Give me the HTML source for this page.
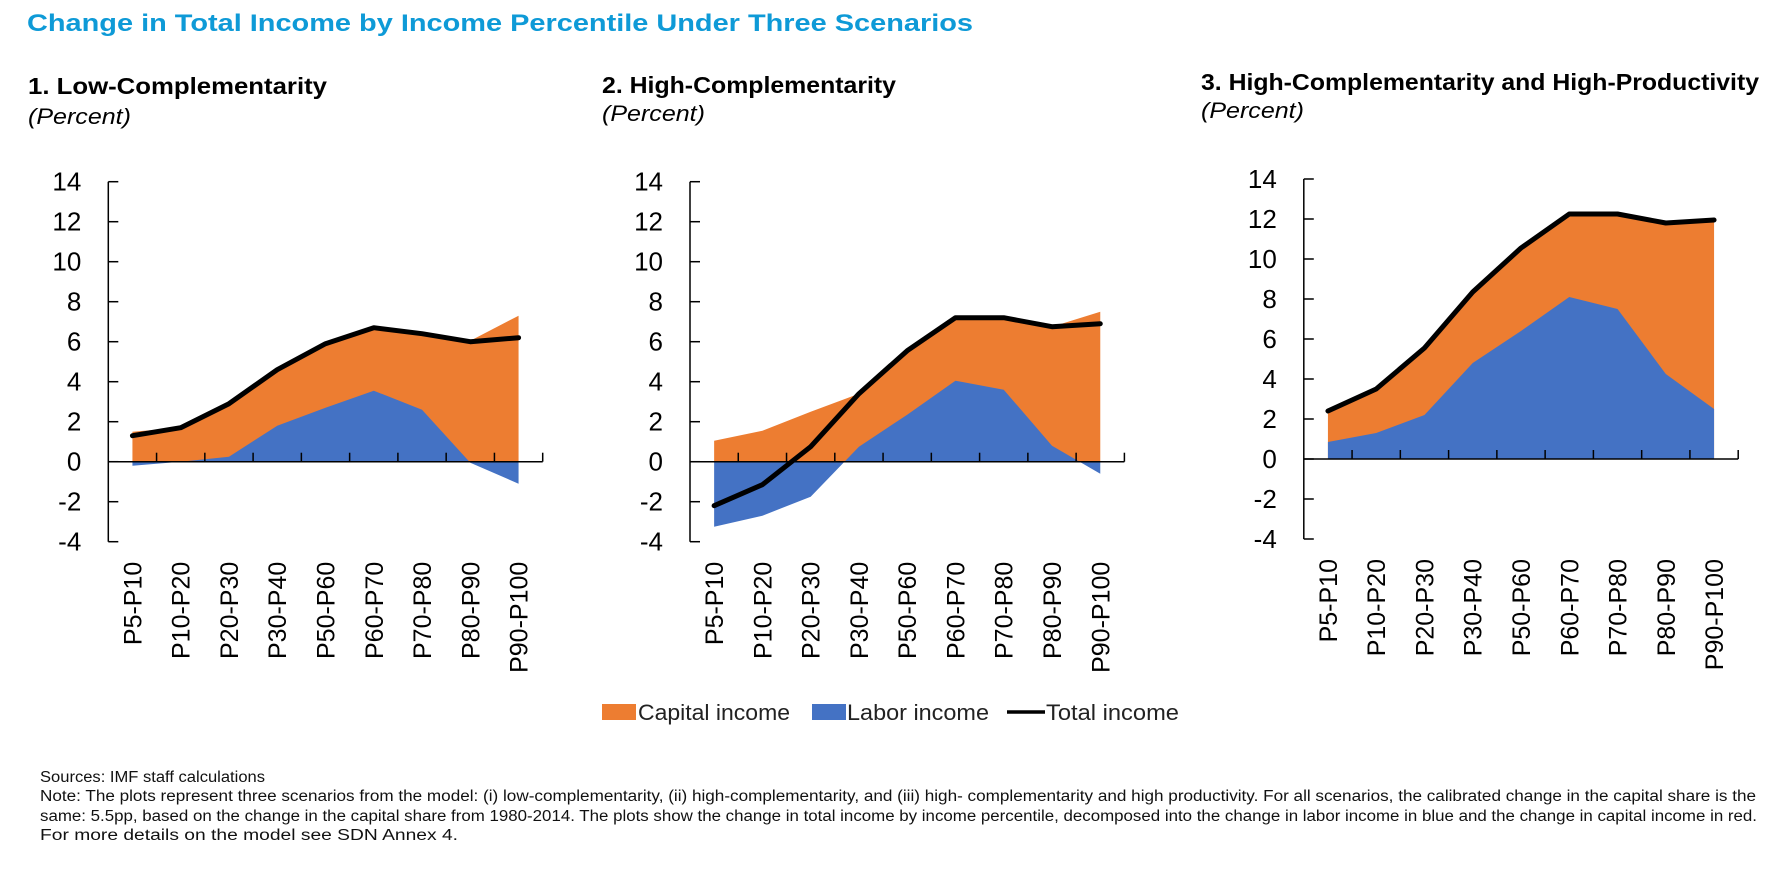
<!DOCTYPE html>
<html><head><meta charset="utf-8"><style>
html,body{margin:0;padding:0;background:#fff;width:1782px;height:870px;overflow:hidden}
svg{display:block}
text{font-family:"Liberation Sans",sans-serif}
</style></head><body>
<svg id="root" width="1782" height="870" viewBox="0 0 1782 870" xmlns="http://www.w3.org/2000/svg">
<text x="27" y="31" font-size="24" font-weight="bold" fill="#0e9ad7" textLength="946" lengthAdjust="spacingAndGlyphs">Change in Total Income by Income Percentile Under Three Scenarios</text>
<text x="28" y="94" font-size="23" font-weight="bold" fill="#000" textLength="299" lengthAdjust="spacingAndGlyphs">1.  Low-Complementarity</text>
<text x="28" y="124" font-size="22" font-style="italic" fill="#000" textLength="103" lengthAdjust="spacingAndGlyphs">(Percent)</text>
<text x="602" y="93" font-size="23" font-weight="bold" fill="#000" textLength="294" lengthAdjust="spacingAndGlyphs">2. High-Complementarity</text>
<text x="602" y="121" font-size="22" font-style="italic" fill="#000" textLength="103" lengthAdjust="spacingAndGlyphs">(Percent)</text>
<text x="1201" y="90" font-size="23" font-weight="bold" fill="#000" textLength="558" lengthAdjust="spacingAndGlyphs">3. High-Complementarity and High-Productivity</text>
<text x="1201" y="118" font-size="22" font-style="italic" fill="#000" textLength="103" lengthAdjust="spacingAndGlyphs">(Percent)</text>
<g id="charts"></g>
<g>
<rect x="602" y="704" width="34" height="16" fill="#ED7D31"/>
<text x="638" y="720" font-size="22" fill="#222" textLength="152" lengthAdjust="spacingAndGlyphs">Capital income</text>
<rect x="812" y="704" width="34" height="16" fill="#4472C4"/>
<text x="847" y="720" font-size="22" fill="#222" textLength="142" lengthAdjust="spacingAndGlyphs">Labor income</text>
<line x1="1007" y1="712" x2="1045" y2="712" stroke="#000" stroke-width="3.5"/>
<text x="1046" y="720" font-size="22" fill="#222" textLength="133" lengthAdjust="spacingAndGlyphs">Total income</text>
</g>
<g font-size="15.5" fill="#111">
<text x="40" y="782" textLength="225" lengthAdjust="spacingAndGlyphs">Sources: IMF staff calculations</text>
<text x="40" y="801" textLength="1716" lengthAdjust="spacingAndGlyphs">Note: The plots represent three scenarios from the model: (i) low-complementarity, (ii) high-complementarity, and (iii) high- complementarity and high productivity. For all scenarios, the calibrated change in the capital share is the</text>
<text x="40" y="821" textLength="1717" lengthAdjust="spacingAndGlyphs">same: 5.5pp, based on the change in the capital share from 1980-2014. The plots show the change in total income by income percentile, decomposed into the change in labor income in blue and the change in capital income in red.</text>
<text x="40" y="840" textLength="418" lengthAdjust="spacingAndGlyphs">For more details on the model see SDN Annex 4.</text>
</g>
</svg>
<script>
const categories = ["P5-P10","P10-P20","P20-P30","P30-P40","P50-P60","P60-P70","P70-P80","P80-P90","P90-P100"];
const yTicks = [-4,-2,0,2,4,6,8,10,12,14];
const labor1 = [-0.2,0,0.25,1.8,2.7,3.55,2.6,-0.05,-1.1];
const capital1 = [1.5,1.7,2.65,2.8,3.2,3.15,3.8,6.05,7.3];
const total1 = [1.3,1.7,2.9,4.6,5.9,6.7,6.4,6.0,6.2];
const labor2 = [-3.25,-2.7,-1.75,0.75,2.35,4.05,3.6,0.8,-0.6];
const capital2 = [1.05,1.55,2.5,2.65,3.2,3.15,3.6,5.95,7.5];
const total2 = [-2.2,-1.15,0.75,3.4,5.55,7.2,7.2,6.75,6.9];
const labor3 = [0.85,1.3,2.2,4.8,6.4,8.1,7.5,4.25,2.5];
const capital3 = [1.55,2.2,3.35,3.55,4.15,4.15,4.75,7.55,9.45];
const total3 = [2.4,3.5,5.55,8.35,10.55,12.25,12.25,11.8,11.95];

const NS="http://www.w3.org/2000/svg";
const host=document.getElementById('charts');
function mk(tag,attrs,parent){const e=document.createElementNS(NS,tag);for(const k in attrs)e.setAttribute(k,attrs[k]);parent.appendChild(e);return e;}

function drawChart(idx, ax, zeroY, labor, capital, total){
  const W=434.4, unit=20.0, ymin=-4, ymax=14;
  const x=i=>ax+W/categories.length*(i+0.5);
  const y=v=>zeroY-v*unit;
  const g=mk('g',{},host);
  
  
  const top=capital.map((c,i)=>Math.max(labor[i],0)+c);
  let d='M'+x(0)+','+y(0);
  top.forEach((v,i)=>d+=' L'+x(i)+','+y(v));
  d+=' L'+x(categories.length-1)+','+y(0)+' Z';
  const cap=mk('path',{d:d,fill:'#ED7D31'},g);
  
  
  let d2='M'+x(0)+','+y(0);
  labor.forEach((v,i)=>d2+=' L'+x(i)+','+y(v));
  d2+=' L'+x(categories.length-1)+','+y(0)+' Z';
  const lab=mk('path',{d:d2,fill:'#4472C4'},g);
  
  
  const ya=mk('line',{x1:ax,y1:y(ymax),x2:ax,y2:y(ymin),stroke:'#000','stroke-width':1.5},g);
  
  
  yTicks.forEach(t=>{
    mk('line',{x1:ax,y1:y(t),x2:ax+10,y2:y(t),stroke:'#000','stroke-width':1.5},g);
    const tl=mk('text',{x:ax-27,y:y(t)+9,'font-size':26,'text-anchor':'end',fill:'#000'},g);
    tl.textContent=t;
    
    
  });
  const xa=mk('line',{x1:ax,y1:y(0),x2:ax+W,y2:y(0),stroke:'#000','stroke-width':1.5},g);
  
  
  for(let i=1;i<=categories.length;i++){
    const tx=ax+W/categories.length*i;
    mk('line',{x1:tx,y1:y(0),x2:tx,y2:y(0)-9,stroke:'#000','stroke-width':1.5},g);
  }
  categories.forEach((c,i)=>{
    const ly=zeroY+100;
    const t=mk('text',{x:x(i)+9,y:ly,'font-size':25,'text-anchor':'end',fill:'#000',transform:'rotate(-90 '+(x(i)+9)+' '+ly+')'},g);
    t.textContent=c;
    
    
  });
  const pts=total.map((v,i)=>x(i)+','+y(v)).join(' ');
  const pl=mk('polyline',{points:pts,fill:'none',stroke:'#000','stroke-width':5,'stroke-linejoin':'round','stroke-linecap':'round'},g);
  
  
}
drawChart(1,108.3,461.7,labor1,capital1,total1);
drawChart(2,690,461.7,labor2,capital2,total2);
drawChart(3,1303.8,459,labor3,capital3,total3);
</script>
</body></html>
